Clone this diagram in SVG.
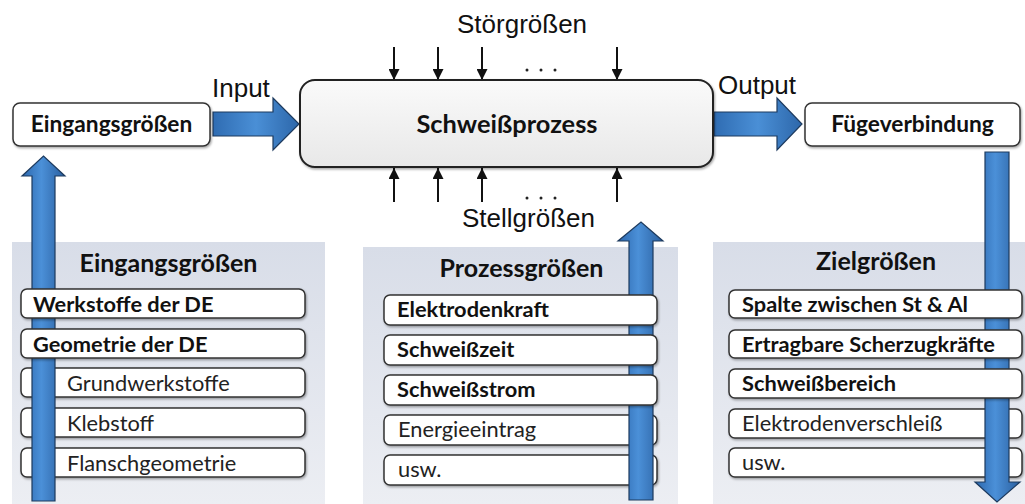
<svg xmlns="http://www.w3.org/2000/svg" width="1025" height="504" viewBox="0 0 1025 504">
<defs>
<linearGradient id="gV" x1="0" y1="0" x2="1" y2="0">
<stop offset="0" stop-color="#2c67ad"/><stop offset="0.45" stop-color="#4b90d8"/><stop offset="1" stop-color="#2a5f9f"/>
</linearGradient>
<linearGradient id="gH" x1="0" y1="0" x2="1" y2="0">
<stop offset="0" stop-color="#2f6cb2"/><stop offset="0.5" stop-color="#4a8fd6"/><stop offset="1" stop-color="#2d67aa"/>
</linearGradient>
<linearGradient id="gPanel" x1="0" y1="0" x2="0" y2="1">
<stop offset="0" stop-color="#d8dde8"/><stop offset="1" stop-color="#eceef3"/>
</linearGradient>
<linearGradient id="gProc" x1="0" y1="0" x2="0" y2="1">
<stop offset="0" stop-color="#fafafa"/><stop offset="1" stop-color="#e8e8e8"/>
</linearGradient>
<filter id="sh" x="-5%" y="-20%" width="110%" height="150%">
<feDropShadow dx="1" dy="1.5" stdDeviation="1" flood-color="#000" flood-opacity="0.35"/>
</filter>
<marker id="ah" viewBox="0 0 10 10" refX="10" refY="5" markerWidth="11" markerHeight="11" markerUnits="userSpaceOnUse" orient="auto">
<path d="M0,0 L10,5 L0,10 z" fill="#111"/>
</marker>
</defs>
<style>
.panel{fill:url(#gPanel);}
.box{fill:#fff;stroke:#333;stroke-width:1.5;filter:url(#sh);}
.big{fill:url(#gV);stroke:#1d3a5e;stroke-width:1.2;}
.bigh{fill:url(#gH);stroke:#1d3a5e;stroke-width:1.2;}
.thin{stroke:#111;stroke-width:2;fill:none;marker-end:url(#ah);}
.lbl{font-family:"Liberation Sans",Arial,sans-serif;font-size:26px;fill:#111;}
.tb{font-family:Lato,"Open Sans",sans-serif;font-weight:bold;fill:#111;}
.tr{font-family:Lato,"Open Sans",sans-serif;fill:#222;}
.title{font-size:25px;text-anchor:middle;}
.item{font-size:21.8px;}
.top{font-size:22.7px;text-anchor:middle;}
.dot{fill:#222;}
</style>

<!-- panels -->
<g id="panel-eingang"><rect class="panel" x="12" y="242" width="313" height="262"/>
<text class="tb title" x="168.5" y="272">Eingangsgrößen</text></g>
<g id="panel-prozess"><rect class="panel" x="363" y="247" width="315" height="257"/>
<text class="tb title" x="521.5" y="277">Prozessgrößen</text></g>
<g id="panel-ziel"><rect class="panel" x="713" y="242" width="312" height="262"/>
<text class="tb title" x="876" y="270">Zielgrößen</text></g>

<!-- regular items (behind arrows) -->
<g id="grundwerkstoffe"><rect class="box" x="21" y="368" width="284" height="29" rx="6"/><text class="tr item" x="67" y="391">Grundwerkstoffe</text></g>
<g id="klebstoff"><rect class="box" x="21" y="408" width="284" height="29" rx="6"/><text class="tr item" x="67" y="431">Klebstoff</text></g>
<g id="flanschgeometrie"><rect class="box" x="21" y="448" width="284" height="29" rx="6"/><text class="tr item" x="67" y="471">Flanschgeometrie</text></g>
<g id="energieeintrag"><rect class="box" x="384" y="415" width="273" height="30" rx="6"/><text class="tr item" x="398" y="437">Energieeintrag</text></g>
<g id="usw-prozess"><rect class="box" x="384" y="455" width="273" height="30" rx="6"/><text class="tr item" x="398" y="477">usw.</text></g>
<g id="elektrodenverschleiss"><rect class="box" x="729" y="409" width="293" height="29" rx="6"/><text class="tr item" x="742" y="431">Elektrodenverschleiß</text></g>
<g id="usw-ziel"><rect class="box" x="729" y="448" width="293" height="29" rx="6"/><text class="tr item" x="742" y="470">usw.</text></g>

<!-- connectors -->
<g id="connectors">
<polygon class="big" points="32,501 55,501 55,176 65,176 43.5,156 22,176 32,176"/>
<polygon class="big" points="629,500 653,500 653,241 663,241 641,222 618,241 629,241"/>
<polygon class="big" points="985,152 1009,152 1009,482 1020,482 997,502 975,482 985,482"/>
<polygon class="bigh" points="213,112 273,112 273,98 299,124 273,150 273,136 213,136"/>
<polygon class="bigh" points="714,112 777,112 777,98 802,124 777,150 777,136 714,136"/>
<line class="thin" x1="394" y1="47" x2="394" y2="80"/>
<line class="thin" x1="438" y1="47" x2="438" y2="80"/>
<line class="thin" x1="482" y1="47" x2="482" y2="80"/>
<line class="thin" x1="617" y1="47" x2="617" y2="80"/>
<line class="thin" x1="394" y1="202" x2="394" y2="168"/>
<line class="thin" x1="438" y1="202" x2="438" y2="168"/>
<line class="thin" x1="482" y1="202" x2="482" y2="168"/>
<line class="thin" x1="617" y1="202" x2="617" y2="168"/>
</g>

<!-- labels -->
<text class="lbl" x="212" y="97">Input</text>
<text class="lbl" x="718" y="94">Output</text>
<text class="lbl" x="457" y="33">Störgrößen</text>
<text class="lbl" x="462" y="227">Stellgrößen</text>
<g id="dots">
<circle class="dot" cx="527" cy="70" r="1.5"/><circle class="dot" cx="541" cy="70" r="1.5"/><circle class="dot" cx="555" cy="70" r="1.5"/>
<circle class="dot" cx="527" cy="198" r="1.5"/><circle class="dot" cx="541" cy="198" r="1.5"/><circle class="dot" cx="555" cy="198" r="1.5"/>
</g>

<!-- top nodes -->
<g id="eingangsgroessen"><rect class="box" x="13" y="103" width="197" height="43" rx="7"/><text class="tb top" x="111.5" y="132">Eingangsgrößen</text></g>
<g id="schweissprozess"><rect x="300" y="80" width="413" height="87" rx="15" fill="url(#gProc)" stroke="#222" stroke-width="2" filter="url(#sh)"/><text class="tb" x="507" y="133" font-size="25.4" text-anchor="middle">Schweißprozess</text></g>
<g id="fuegeverbindung"><rect class="box" x="805" y="103" width="215" height="43" rx="7"/><text class="tb top" x="912.5" y="132">Fügeverbindung</text></g>

<!-- bold items (in front of arrows) -->
<g id="werkstoffe"><rect class="box" x="21" y="289" width="284" height="29" rx="6"/><text class="tb item" x="33" y="312">Werkstoffe der DE</text></g>
<g id="geometrie"><rect class="box" x="21" y="329" width="284" height="29" rx="6"/><text class="tb item" x="33" y="352">Geometrie der DE</text></g>
<g id="elektrodenkraft"><rect class="box" x="384" y="295" width="273" height="30" rx="6"/><text class="tb item" x="397" y="317">Elektrodenkraft</text></g>
<g id="schweisszeit"><rect class="box" x="384" y="335" width="273" height="30" rx="6"/><text class="tb item" x="397" y="357">Schweißzeit</text></g>
<g id="schweissstrom"><rect class="box" x="384" y="375" width="273" height="30" rx="6"/><text class="tb item" x="397" y="397">Schweißstrom</text></g>
<g id="spalte"><rect class="box" x="729" y="290" width="293" height="28" rx="6"/><text class="tb item" x="742" y="312">Spalte zwischen St &amp; Al</text></g>
<g id="ertragbare"><rect class="box" x="729" y="330" width="293" height="28" rx="6"/><text class="tb item" x="742" y="352" textLength="253" lengthAdjust="spacingAndGlyphs">Ertragbare Scherzugkräfte</text></g>
<g id="schweissbereich"><rect class="box" x="729" y="369" width="293" height="29" rx="6"/><text class="tb item" x="742" y="391">Schweißbereich</text></g>
</svg>
